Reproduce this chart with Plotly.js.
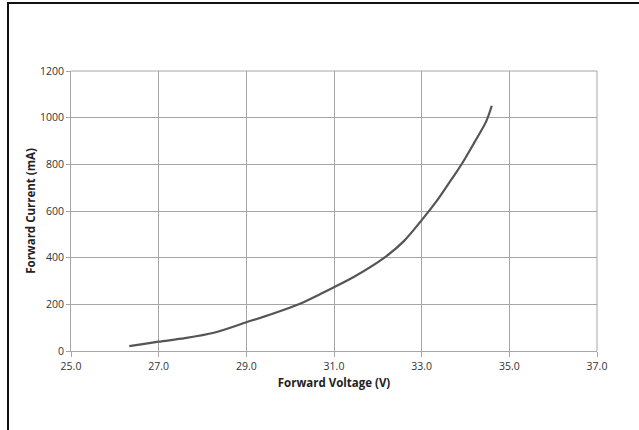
<!DOCTYPE html>
<html>
<head>
<meta charset="utf-8">
<script src="https://cdn.plot.ly/plotly-3.0.1.min.js"></script>
<style>
  html, body { margin: 0; padding: 0; background: #fff; }
  #wrap { position: relative; width: 639px; height: 430px; overflow: hidden; }
  #chart { position: absolute; left: 0; top: 0; width: 639px; height: 430px; }
  #frame { position: absolute; left: 7px; top: 2px; width: 640px; height: 440px;
           border-left: 2px solid #111; border-top: 2px solid #111; pointer-events: none; }
</style>
</head>
<body>
<div id="wrap">
  <div id="chart"></div>
  <div id="frame"></div>
</div>
<script>
const voltage = [26.33, 27.0, 27.6, 28.26, 29.0, 29.6, 30.24, 30.7, 31.0, 31.46, 32.15, 32.6, 33.0, 33.37, 33.67, 33.9, 34.2, 34.47, 34.6];
const current = [21, 40, 55, 78, 123, 160, 204, 245, 273, 318, 400, 472, 561, 650, 733, 797, 893, 983, 1051];

const xTicks = [25, 27, 29, 31, 33, 35, 37];
const xTickLabels = ["25.0", "27.0", "29.0", "31.0", "33.0", "35.0", "37.0"];
const yTicks = [0, 200, 400, 600, 800, 1000, 1200];

const fontFam = "'Open Sans', Lato, sans-serif";

Plotly.newPlot("chart", [{
  x: voltage,
  y: current,
  type: "scatter",
  mode: "lines",
  line: { color: "#555555", width: 2.2, shape: "spline", smoothing: 0.8 },
  hoverinfo: "skip"
}], {
  width: 639,
  height: 430,
  margin: { l: 71, r: 42, t: 71, b: 79 },
  paper_bgcolor: "rgba(0,0,0,0)",
  plot_bgcolor: "#fff",
  showlegend: false,
  font: { family: fontFam, size: 10.5, color: "#333" },
  xaxis: {
    range: [25, 37],
    tickvals: xTicks,
    ticktext: xTickLabels,
    showgrid: true,
    gridcolor: "#a6a6a6",
    gridwidth: 1,
    zeroline: false,
    showline: true,
    linecolor: "#a6a6a6",
    ticks: "outside",
    ticklen: 5,
    tickcolor: "#a6a6a6",
    tickfont: { family: fontFam, size: 10.5, color: "#333" },
    title: { text: "<b>Forward Voltage (V)</b>", font: { family: fontFam, size: 11.5, color: "#222" }, standoff: 7 },
    mirror: false,
    fixedrange: true
  },
  yaxis: {
    range: [0, 1200],
    tickvals: yTicks,
    showgrid: true,
    gridcolor: "#a6a6a6",
    gridwidth: 1,
    zeroline: false,
    showline: true,
    linecolor: "#a6a6a6",
    ticks: "outside",
    ticklen: 4,
    tickcolor: "#a6a6a6",
    tickfont: { family: fontFam, size: 10.5, color: "#333" },
    title: { text: "<b>Forward Current (mA)</b>", font: { family: fontFam, size: 11.5, color: "#222" }, standoff: 1 },
    fixedrange: true
  },
  shapes: [{
    type: "line", xref: "paper", yref: "paper", x0: 1, x1: 1, y0: 0, y1: 1,
    line: { color: "#a6a6a6", width: 1 }
  }, {
    type: "line", xref: "paper", yref: "paper", x0: 0, x1: 1, y0: 1, y1: 1,
    line: { color: "#a6a6a6", width: 1 }
  }]
}, { staticPlot: true, displayModeBar: false });
</script>
</body>
</html>
